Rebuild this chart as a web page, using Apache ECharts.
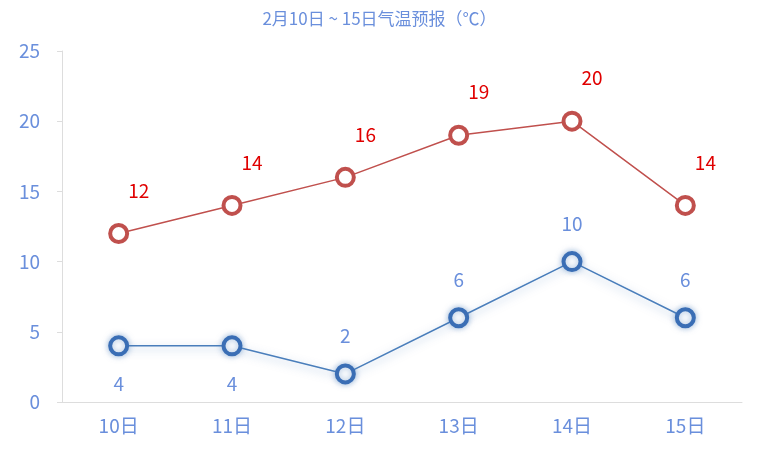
<!DOCTYPE html>
<html><head><meta charset="utf-8">
<script src="https://cdn.jsdelivr.net/npm/echarts@6/dist/echarts.min.js"></script>
<style>html,body{margin:0;padding:0;background:#fff}#c{width:759px;height:475px}</style>
</head><body><div id="c"></div>
<script>
const categories = ['10日','11日','12日','13日','14日','15日'];
const highTemps = [12, 14, 16, 19, 20, 14];
const lowTemps = [4, 4, 2, 6, 10, 6];
const lowLabelPos = ['bottom','bottom','top','top','top','top'];
const yTicks = [0, 25, 5];
const blue = '#6a8fdc';
const chart = echarts.init(document.getElementById('c'));
chart.setOption({
  animation: false,
  textStyle: {fontFamily: '"Noto Sans CJK SC", sans-serif'},
  title: {text: '2月10日 ~ 15日气温预报（℃）', left: 'center', top: 5,
    textStyle: {color: blue, fontSize: 17, fontWeight: 'normal'}},
  grid: {left: 62, right: 17, top: 51, bottom: 73},
  xAxis: {type: 'category', data: categories, boundaryGap: true,
    axisLine: {lineStyle: {color: '#ddd'}}, axisTick: {lineStyle: {color: '#ddd'}},
    axisLabel: {color: blue, fontSize: 19, margin: 14}},
  yAxis: {type: 'value', min: yTicks[0], max: yTicks[1], interval: yTicks[2],
    axisLine: {show: true, lineStyle: {color: '#ddd'}}, axisTick: {show: true, lineStyle: {color: '#ddd'}},
    splitLine: {show: false}, axisLabel: {color: blue, fontSize: 19, margin: 22}},
  series: [
    {type: 'line', data: highTemps, symbol: 'circle', symbolSize: 17,
      lineStyle: {color: '#c0504d', width: 1.5},
      itemStyle: {color: '#fff', borderColor: '#c0504d', borderWidth: 4},
      label: {show: true, position: [20, -42], color: '#e00000', fontSize: 19}},
    {type: 'line', data: lowTemps.map((v,i)=>({value: v, label: {position: lowLabelPos[i], distance: 18}})),
      symbol: 'circle', symbolSize: 17,
      lineStyle: {color: '#4a7ebb', width: 1.5, shadowColor: 'rgba(74,126,187,0.5)', shadowBlur: 8, shadowOffsetY: 3},
      itemStyle: {color: '#fff', borderColor: '#3a6eb5', borderWidth: 4, shadowColor: 'rgba(74,126,187,0.5)', shadowBlur: 6},
      label: {show: true, color: blue, fontSize: 19}}
  ]
});
</script></body></html>
